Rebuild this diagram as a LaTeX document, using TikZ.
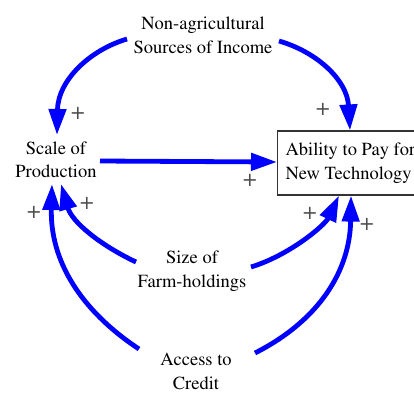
\documentclass[tikz,border=0pt]{standalone}
\usepackage[T1]{fontenc}
\usepackage{mathptmx}
\usetikzlibrary{arrows.meta,calc}
\begin{document}
\begin{tikzpicture}[x=1pt,y=-1pt,
  lbl/.style={align=center,font=\rmfamily\fontsize{18.5}{23.5}\selectfont,inner sep=2pt},
  pl/.style={font=\rmfamily\fontsize{24}{24}\selectfont,text=black!70,inner sep=0pt},
  link/.style={draw=blue,line width=4.8pt,-{Triangle[length=26pt,width=17pt]}},
]
\useasboundingbox (0,0) rectangle (414,392);
\clip (0,0) rectangle (414,392);
\node[lbl] (nonag) at (203,35.5) {Non-agricultural\\Sources of Income};
\node[lbl] (scale) at (56,160) {Scale of\\Production};
\node[lbl] (size) at (192,271) {Size of\\Farm-holdings};
\node[lbl] (access) at (196,371.5) {Access to\\Credit};
\node[draw=black!80,line width=1.1pt,anchor=west,align=left,minimum height=64pt,
  inner xsep=8pt,font=\rmfamily\fontsize{18.5}{23.5}\selectfont] (ability) at (277,163)
  {Ability to Pay for\\New Technology};
% connectors
\draw[link] ($(nonag.center)+(-76,3.5)$) .. controls (90,50) and (58,80) .. ($(scale.center)+(1,-25)$);
\draw[link] ($(nonag.center)+(76,5.5)$) .. controls (317,52) and (347,80) .. ($(ability.north west)+(73,0)$);
\draw[link] ($(scale.center)+(44,1)$) -- ($(ability.west)+(0,-1)$);
\draw[link] ($(size.center)+(-56,-9)$) .. controls (100,245) and (72,222) .. ($(scale.center)+(5,24)$);
\draw[link] ($(size.center)+(59,-4)$) .. controls (290,255) and (325,225) .. ($(ability.south west)+(62,0)$);
\draw[link] ($(access.center)+(-57,-22.5)$) .. controls (80,310) and (50,260) .. ($(scale.center)+(-4,24)$);
\draw[link] ($(access.center)+(59,-18.5)$) .. controls (320,320) and (350,270) .. ($(ability.south west)+(74,0)$);
% polarities
\node[pl] (p1) at (78,113) {+};
\node[pl] (p2) at (323,109) {+};
\node[pl] (p3) at (250,180) {+};
\node[pl] (p4) at (87,203) {+};
\node[pl] (p5) at (34,212) {+};
\node[pl] (p6) at (310,213) {+};
\node[pl] (p7) at (367,224) {+};
\end{tikzpicture}
\end{document}
